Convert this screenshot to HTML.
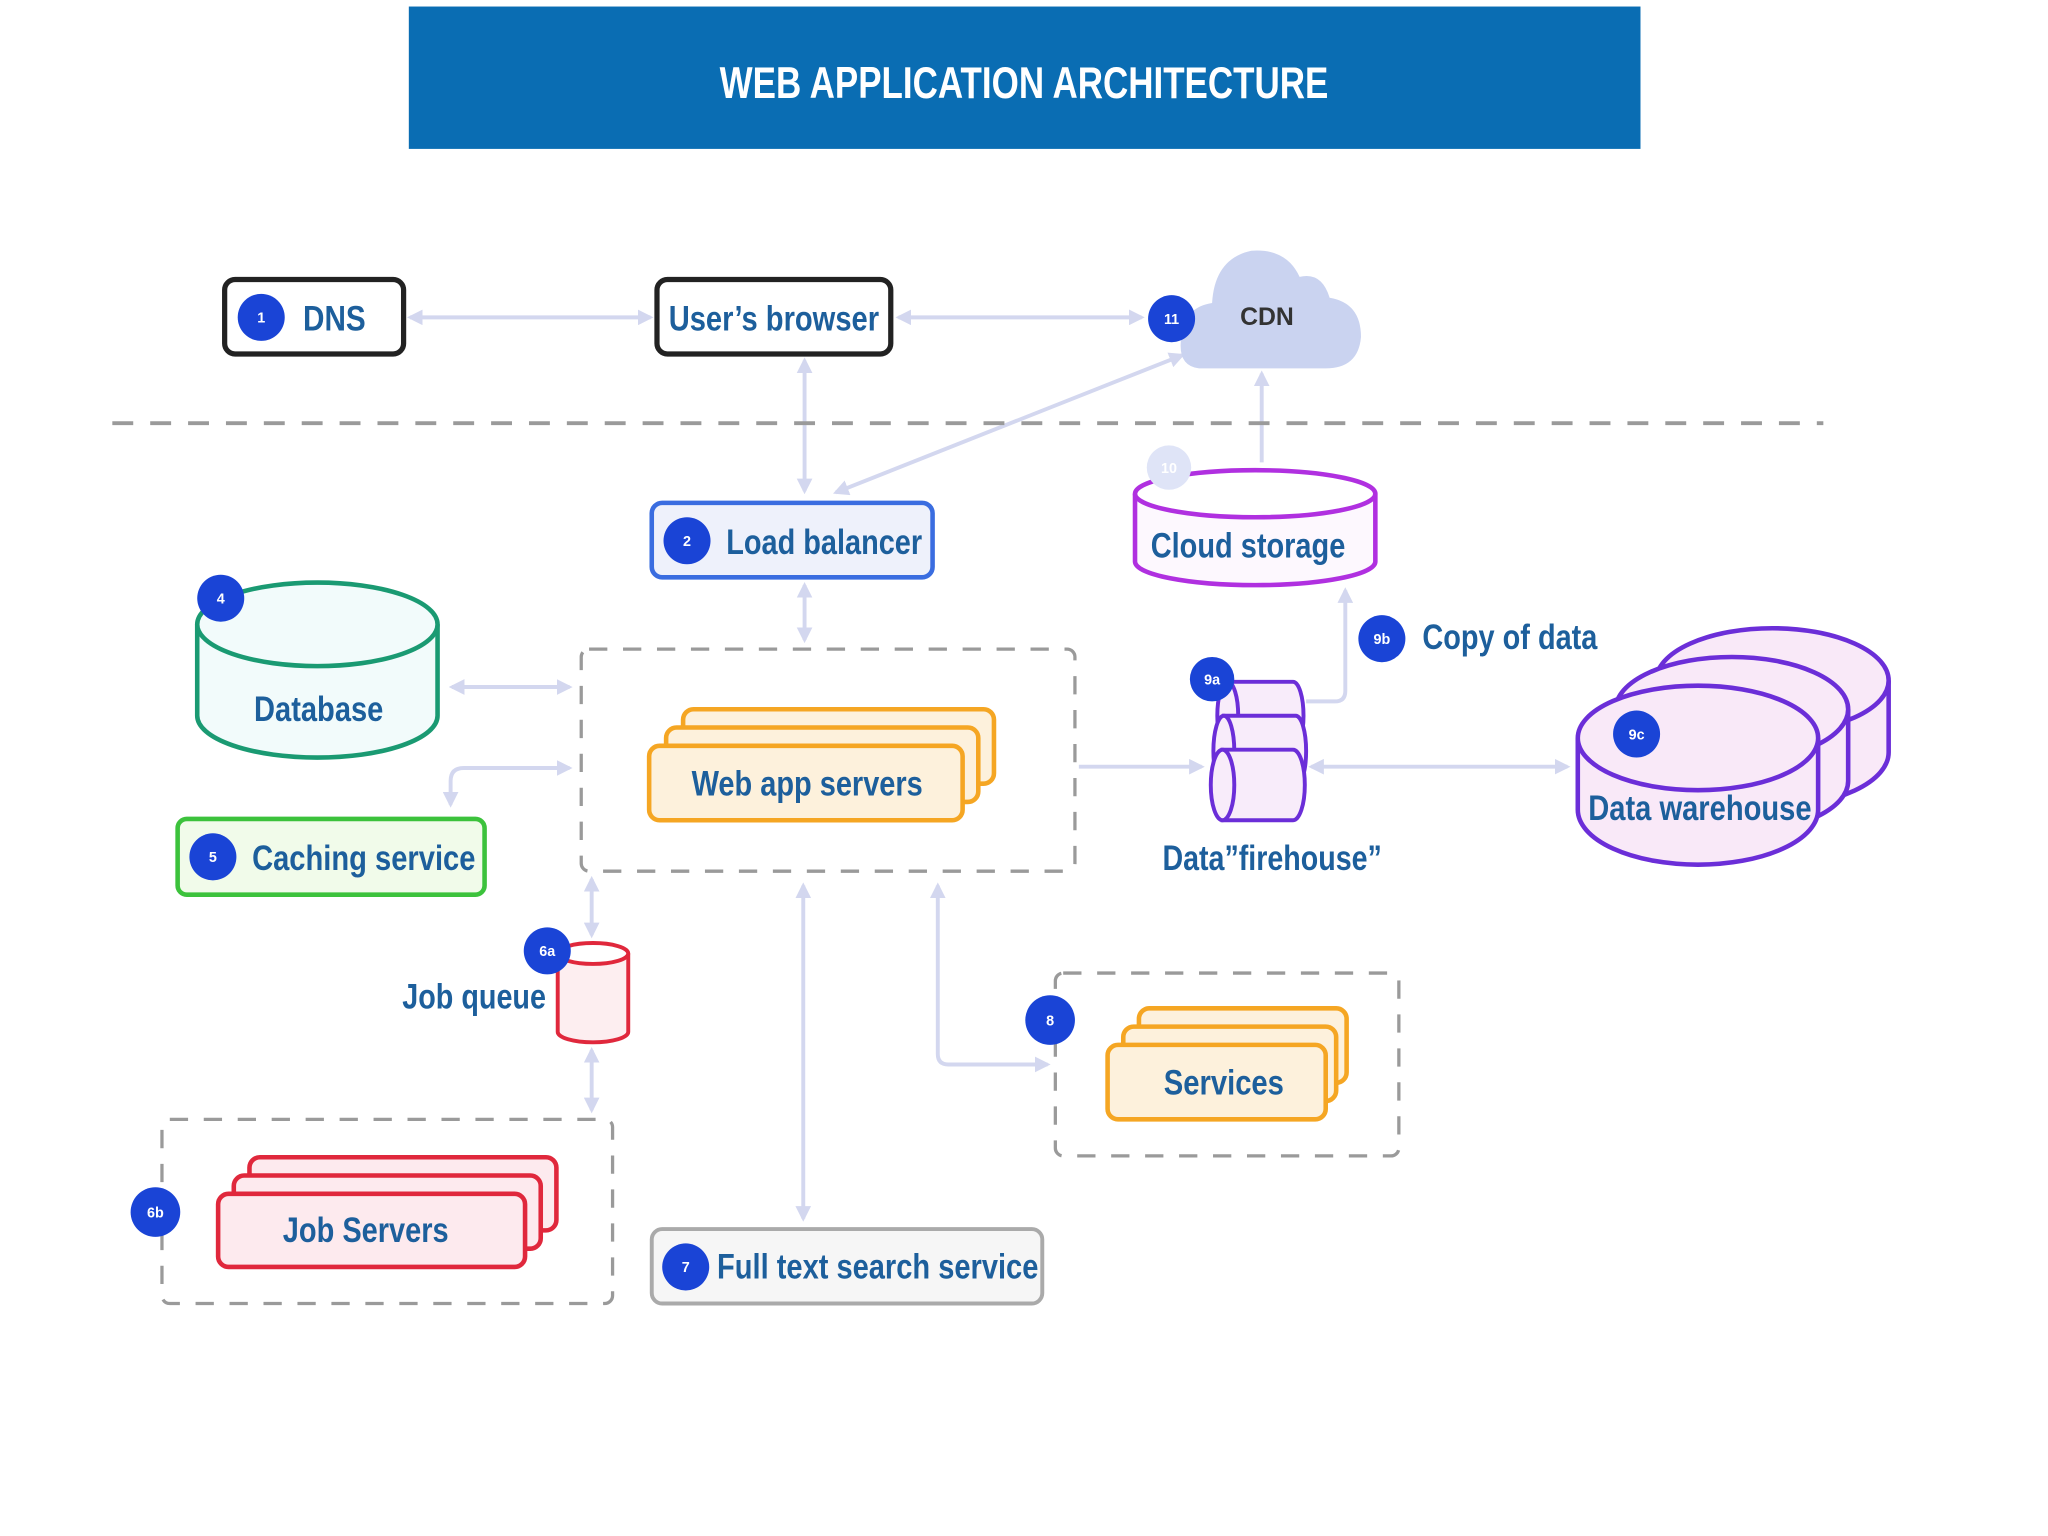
<!DOCTYPE html>
<html><head><meta charset="utf-8"><style>
html,body{margin:0;padding:0;background:#fff;width:2048px;height:1536px;overflow:hidden}
svg{display:block}
text{font-family:"Liberation Sans Narrow","Liberation Sans",sans-serif;font-weight:bold}
.t{fill:#1d5f9c;font-size:27px}
.b{fill:#fff;font-size:11px;text-anchor:middle}
.c{stroke:#d3d7ef;stroke-width:3;fill:none}
</style></head><body>
<svg width="2048" height="1536" viewBox="0 0 1568 1176" xmlns="http://www.w3.org/2000/svg">
<defs>
<marker id="a" viewBox="0 0 10 10" refX="8" refY="5" markerWidth="4" markerHeight="4" orient="auto-start-reverse"><path d="M0,0L10,5L0,10z" fill="#d3d7ef"/></marker>
</defs>
<rect x="313" y="5" width="943" height="109" fill="#0a6db3"/>
<text x="784" y="75" fill="#fff" font-size="34" text-anchor="middle" textLength="466" lengthAdjust="spacingAndGlyphs">WEB APPLICATION ARCHITECTURE</text>

<!-- connectors -->
<line class="c" x1="314" y1="243" x2="498" y2="243" marker-start="url(#a)" marker-end="url(#a)"/>
<line class="c" x1="688" y1="243" x2="874" y2="243" marker-start="url(#a)" marker-end="url(#a)"/>
<line class="c" x1="616" y1="276" x2="616" y2="376" marker-start="url(#a)" marker-end="url(#a)"/>
<line class="c" x1="905" y1="272" x2="640" y2="377" marker-start="url(#a)" marker-end="url(#a)"/>
<line class="c" x1="966" y1="286" x2="966" y2="354" marker-start="url(#a)"/>
<line class="c" x1="616" y1="448" x2="616" y2="490" marker-start="url(#a)" marker-end="url(#a)"/>
<line class="c" x1="346" y1="526" x2="436" y2="526" marker-start="url(#a)" marker-end="url(#a)"/>
<path class="c" d="M345,616 V598 Q345,588 355,588 H436" marker-start="url(#a)" marker-end="url(#a)"/>
<line class="c" x1="826" y1="587" x2="920" y2="587" marker-end="url(#a)"/>
<line class="c" x1="1004" y1="587" x2="1200" y2="587" marker-start="url(#a)" marker-end="url(#a)"/>
<path class="c" d="M1000,537 H1022 Q1030,537 1030,529 V452" marker-end="url(#a)"/>
<line class="c" x1="453" y1="673" x2="453" y2="716" marker-start="url(#a)" marker-end="url(#a)"/>
<line class="c" x1="453" y1="804" x2="453" y2="850" marker-start="url(#a)" marker-end="url(#a)"/>
<line class="c" x1="615" y1="678" x2="615" y2="933" marker-start="url(#a)" marker-end="url(#a)"/>
<path class="c" d="M718,678 V807 Q718,815 726,815 H802" marker-start="url(#a)" marker-end="url(#a)"/>

<!-- dashed lines/boxes -->
<line x1="86" y1="324" x2="1396" y2="324" stroke="#9a9a9a" stroke-width="3" stroke-dasharray="16 13"/>
<rect x="445" y="497" width="378" height="170" rx="6" fill="none" stroke="#9a9a9a" stroke-width="2.5" stroke-dasharray="14 12"/>
<rect x="124" y="857" width="345" height="141" rx="6" fill="none" stroke="#9a9a9a" stroke-width="2.5" stroke-dasharray="14 12"/>
<rect x="808" y="745" width="263" height="140" rx="6" fill="none" stroke="#9a9a9a" stroke-width="2.5" stroke-dasharray="14 12"/>

<!-- DNS -->
<rect x="172" y="214" width="137" height="57" rx="8" fill="#fff" stroke="#222" stroke-width="4"/>
<circle cx="200" cy="243" r="18" fill="#1a44d6"/><text class="b" x="200" y="247">1</text>
<text class="t" x="232" y="253" textLength="48" lengthAdjust="spacingAndGlyphs">DNS</text>
<!-- browser -->
<rect x="503" y="214" width="179" height="57" rx="8" fill="#fff" stroke="#222" stroke-width="4"/>
<text class="t" x="512" y="253" textLength="161" lengthAdjust="spacingAndGlyphs">User’s browser</text>
<!-- CDN -->
<path d="M918,282 Q900,280 905,255 Q908,235 928,232 Q930,198 958,192 Q985,190 995,212 Q1012,208 1018,228 Q1042,232 1042,258 Q1040,282 1015,282 Z" fill="#cad3f0"/>
<circle cx="897" cy="244" r="18" fill="#1a44d6"/><text class="b" x="897" y="248">11</text>
<text x="970" y="249" fill="#333" font-size="19" text-anchor="middle">CDN</text>

<!-- Load balancer -->
<rect x="499" y="385" width="215" height="57" rx="8" fill="#eef1fb" stroke="#3a6de0" stroke-width="3.5"/>
<circle cx="526" cy="414" r="18" fill="#1a44d6"/><text class="b" x="526" y="418">2</text>
<text class="t" x="556" y="424" textLength="150" lengthAdjust="spacingAndGlyphs">Load balancer</text>

<!-- Cloud storage -->
<path d="M869,378 V430 A92,18 0 0 0 1053,430 V378" fill="#fdf8fe" stroke="#b030e0" stroke-width="3.5"/>
<ellipse cx="961" cy="378" rx="92" ry="18" fill="#fff" stroke="#b030e0" stroke-width="3.5"/>
<circle cx="895" cy="358" r="17" fill="#dfe4f7"/><text class="b" x="895" y="362" fill="#eef">10</text>
<text class="t" x="881" y="427" textLength="149" lengthAdjust="spacingAndGlyphs">Cloud storage</text>

<!-- Database -->
<path d="M151,478 V548 A92,32 0 0 0 335,548 V478" fill="#f2fbfb" stroke="#1a9a72" stroke-width="3.5"/>
<ellipse cx="243" cy="478" rx="92" ry="32" fill="#f2fbfb" stroke="#1a9a72" stroke-width="3.5"/>
<circle cx="169" cy="458" r="18" fill="#1a44d6"/><text class="b" x="169" y="462">4</text>
<text class="t" x="244" y="552" text-anchor="middle" textLength="99" lengthAdjust="spacingAndGlyphs">Database</text>

<!-- Caching -->
<rect x="136" y="627" width="235" height="58" rx="7" fill="#f1fbea" stroke="#3cc23c" stroke-width="3.5"/>
<circle cx="163" cy="656" r="18" fill="#1a44d6"/><text class="b" x="163" y="660">5</text>
<text class="t" x="193" y="666" textLength="171" lengthAdjust="spacingAndGlyphs">Caching service</text>

<!-- Web app servers -->
<rect x="523" y="543" width="238" height="57" rx="8" fill="#fdf1dc" stroke="#f5a623" stroke-width="3.5"/>
<rect x="510" y="557" width="239" height="57" rx="8" fill="#fdf1dc" stroke="#f5a623" stroke-width="3.5"/>
<rect x="497" y="571" width="240" height="57" rx="8" fill="#fdf1dc" stroke="#f5a623" stroke-width="3.5"/>
<text class="t" x="618" y="609" text-anchor="middle" textLength="177" lengthAdjust="spacingAndGlyphs">Web app servers</text>

<!-- Firehouse -->
<g fill="#f8ecfa" stroke="#6b2ed8" stroke-width="3">
<path d="M940,522 H990 A8,26 0 0 1 990,574 H940 Z"/><ellipse cx="940" cy="548" rx="8" ry="26"/>
<path d="M937,548 H992 A8,27 0 0 1 992,602 H937 Z"/><ellipse cx="937" cy="575" rx="8" ry="27"/>
<path d="M936,574 H990 A9,27 0 0 1 990,628 H936 Z"/><ellipse cx="936" cy="601" rx="9" ry="27"/>
</g>
<circle cx="928" cy="520" r="17" fill="#1a44d6"/><text class="b" x="928" y="524">9a</text>
<text class="t" x="974" y="666" text-anchor="middle" textLength="168" lengthAdjust="spacingAndGlyphs">Data”firehouse”</text>
<circle cx="1058" cy="489" r="18" fill="#1a44d6"/><text class="b" x="1058" y="493">9b</text>
<text class="t" x="1089" y="497" textLength="134" lengthAdjust="spacingAndGlyphs">Copy of data</text>

<!-- Data warehouse -->
<g fill="#f9e9f8" stroke="#6b2ed8" stroke-width="3.5">
<path d="M1268,521 V576 A86,40 0 0 0 1446,576 V521"/><ellipse cx="1357" cy="521" rx="89" ry="40"/>
<path d="M1237,543 V598 A89,40 0 0 0 1415,598 V543"/><ellipse cx="1326" cy="543" rx="89" ry="40"/>
<path d="M1208,565 V620 A92,42 0 0 0 1392,620 V565"/><ellipse cx="1300" cy="565" rx="92" ry="40"/>
</g>
<circle cx="1253" cy="562" r="18" fill="#1a44d6"/><text class="b" x="1253" y="566">9c</text>
<text class="t" x="1216" y="628" textLength="171" lengthAdjust="spacingAndGlyphs">Data warehouse</text>

<!-- Job queue -->
<path d="M427,730 V790 A27,8 0 0 0 481,790 V730" fill="#fdeef0" stroke="#e0283c" stroke-width="3"/>
<ellipse cx="454" cy="730" rx="27" ry="8" fill="#fff" stroke="#e0283c" stroke-width="3"/>
<circle cx="419" cy="728" r="18" fill="#1a44d6"/><text class="b" x="419" y="732">6a</text>
<text class="t" x="308" y="772" textLength="110" lengthAdjust="spacingAndGlyphs">Job queue</text>

<!-- Job servers -->
<rect x="191" y="886" width="235" height="56" rx="8" fill="#fdeaee" stroke="#e0283c" stroke-width="3.5"/>
<rect x="179" y="900" width="235" height="56" rx="8" fill="#fdeaee" stroke="#e0283c" stroke-width="3.5"/>
<rect x="167" y="914" width="235" height="56" rx="8" fill="#fdeaee" stroke="#e0283c" stroke-width="3.5"/>
<text class="t" x="280" y="951" text-anchor="middle" textLength="127" lengthAdjust="spacingAndGlyphs">Job Servers</text>
<circle cx="119" cy="928" r="19" fill="#1a44d6"/><text class="b" x="119" y="932">6b</text>

<!-- Full text search -->
<rect x="499" y="941" width="299" height="57" rx="8" fill="#f6f6f6" stroke="#aaa" stroke-width="3"/>
<circle cx="525" cy="970" r="18" fill="#1a44d6"/><text class="b" x="525" y="974">7</text>
<text class="t" x="549" y="979" textLength="246" lengthAdjust="spacingAndGlyphs">Full text search service</text>

<!-- Services -->
<rect x="872" y="772" width="159" height="57" rx="8" fill="#fdf1dc" stroke="#f5a623" stroke-width="3.5"/>
<rect x="860" y="786" width="163" height="57" rx="8" fill="#fdf1dc" stroke="#f5a623" stroke-width="3.5"/>
<rect x="848" y="800" width="167" height="57" rx="8" fill="#fdf1dc" stroke="#f5a623" stroke-width="3.5"/>
<text class="t" x="937" y="838" text-anchor="middle" textLength="92" lengthAdjust="spacingAndGlyphs">Services</text>
<circle cx="804" cy="781" r="19" fill="#1a44d6"/><text class="b" x="804" y="785">8</text>
</svg>
</body></html>
